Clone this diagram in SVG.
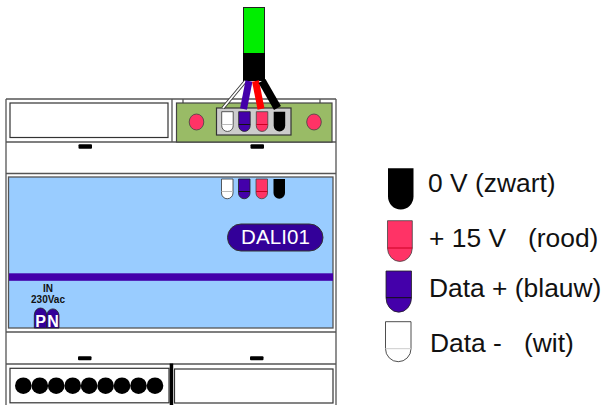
<svg xmlns="http://www.w3.org/2000/svg" width="603" height="405" viewBox="0 0 603 405">
<style>
.box{fill:#fff;stroke:#333;stroke-width:1.2}
.sep{fill:none;stroke:#555;stroke-width:1.3}
.slot{fill:#000}
.dot{fill:#000}
.scr{fill:#ff3366;stroke:#444;stroke-width:.8}
.leg{font:26.400px "Liberation Sans",Arial,sans-serif;fill:#111}
.tiny{font:bold 10px "Liberation Sans",Arial,sans-serif;fill:#111;text-anchor:middle}
.pn{font:bold 16px "Liberation Sans",Arial,sans-serif;fill:#fff;text-anchor:middle}
</style>
<defs>
<path id="pin" d="M0 0H11.500V14A5.750 5.750 0 0 1 0 14Z"/>
</defs>
<g id="housing">
<path class="sep" d="M6 99H336M6 99V405M336 99V405M6 142H336M6 173.500H336M6 332H336M6 364H336M172 99V142M183 99V103M320 99V103"/>
<rect class="box" x="10" y="103" width="158" height="34.500"/>
<rect class="slot" x="78.500" y="144.300" width="13.500" height="4.500" rx="1"/>
<rect class="slot" x="250.500" y="144.300" width="13.500" height="4.500" rx="1"/>
<rect class="slot" x="78" y="356.300" width="13.500" height="4" rx="1"/>
<rect class="slot" x="250" y="356.300" width="13.500" height="4" rx="1"/>
</g>
<g id="terminal">
<rect x="176.500" y="103" width="155.500" height="39" fill="#99bb66" stroke="#444" stroke-width="1.2"/>
<rect x="216.500" y="108" width="74.500" height="27" fill="#ccc" stroke="#333" stroke-width="1.2"/>
<ellipse class="scr" cx="196.500" cy="122" rx="7.300" ry="8"/>
<ellipse class="scr" cx="314" cy="122" rx="7.300" ry="8"/>
<use href="#pin" x="221.700" y="111.700" fill="#fff" stroke="#333" stroke-width=".8"/>
<path d="M221.700 124.500H233.200" stroke="#bbb" stroke-width="1"/>
<use href="#pin" x="238.700" y="111.700" fill="#4400aa" stroke="#222" stroke-width=".8"/>
<path d="M238.700 124.500H250.200" stroke="#111" stroke-width="1"/>
<use href="#pin" x="256.300" y="111.700" fill="#ff3366" stroke="#444" stroke-width=".8"/>
<path d="M256.300 124.500H267.800" stroke="#cc0022" stroke-width="1"/>
<use href="#pin" x="273.700" y="111.700" fill="#000"/>
</g>
<g id="cable">
<rect x="243.500" y="7.500" width="21" height="46" fill="#00ee00" stroke="#222" stroke-width="1"/>
<rect x="243" y="53" width="22" height="28" fill="#000"/>
<path d="M245.500 81L223 108" stroke="#333" stroke-width="3.500"/>
<path d="M245.500 81L223 108" stroke="#fff" stroke-width="1.800"/>
<path d="M249 81L243.500 109" stroke="#4400aa" stroke-width="7"/>
<path d="M255.500 81L261 109" stroke="#f00" stroke-width="7"/>
<path d="M262 81L277.500 108" stroke="#000" stroke-width="8"/>
</g>
<g id="panel">
<rect x="8.500" y="177" width="324.500" height="151" fill="#99ccff" stroke="#555" stroke-width="1.300"/>
<rect x="9" y="273.300" width="324" height="7.500" fill="#4400aa"/>
<use href="#pin" x="221.500" y="179" fill="#fff" stroke="#333" stroke-width=".8"/>
<path d="M221.500 191.500H233" stroke="#bbb" stroke-width="1"/>
<use href="#pin" x="238.500" y="179" fill="#4400aa" stroke="#222" stroke-width=".8"/>
<path d="M238.500 191.500H250" stroke="#111" stroke-width="1"/>
<use href="#pin" x="256" y="179" fill="#ff3366" stroke="#444" stroke-width=".8"/>
<path d="M256 191.500H267.500" stroke="#cc0022" stroke-width="1"/>
<use href="#pin" x="273.500" y="179" fill="#000"/>
</g>
<g id="dali">
<rect x="227.500" y="224" width="95.500" height="27" rx="13.500" fill="#330099" stroke="#333" stroke-width="1"/>
<text x="241" y="243.500" font-family="Liberation Sans, Arial, sans-serif" font-size="20.500" fill="#fff" textLength="69">DALI01</text>
</g>
<g id="input">
<text class="tiny" x="48" y="291.500">IN</text>
<text class="tiny" x="48" y="303.300">230Vac</text>
<path d="M34.300 328V315A6.200 7 0 0 1 46.700 315V328Z" fill="#330099" stroke="#222" stroke-width=".8"/>
<path d="M46.700 328V315A6.200 7 0 0 1 59 315V328Z" fill="#330099" stroke="#222" stroke-width=".8"/>
<text class="pn" x="40.500" y="327">P</text>
<text class="pn" x="53" y="327">N</text>
</g>
<g id="connector-left">
<rect class="box" x="10" y="368.300" width="159" height="34.500"/>
<circle class="dot" cx="23.300" cy="385.700" r="8.300"/>
<circle class="dot" cx="39.800" cy="385.700" r="8.300"/>
<circle class="dot" cx="56.200" cy="385.700" r="8.300"/>
<circle class="dot" cx="72.700" cy="385.700" r="8.300"/>
<circle class="dot" cx="89.100" cy="385.700" r="8.300"/>
<circle class="dot" cx="105.600" cy="385.700" r="8.300"/>
<circle class="dot" cx="122" cy="385.700" r="8.300"/>
<circle class="dot" cx="138.500" cy="385.700" r="8.300"/>
<circle class="dot" cx="155" cy="385.700" r="8.300"/>
<rect x="169.700" y="363.500" width="3.500" height="41.500" fill="#000"/>
</g>
<g id="connector-right">
<rect class="box" x="174.500" y="369" width="158.500" height="34"/>
</g>
<g id="legend-black">
<path d="M388 168.300H413.500V196.500A12.750 13 0 0 1 388 196.500Z" fill="#000"/>
<text class="leg" x="428" y="192">0 V (zwart)</text>
</g>
<g id="legend-red">
<path d="M387.500 220.700H412.300V248A12.400 13.500 0 0 1 387.500 248Z" fill="#ff3366" stroke="#444" stroke-width=".8"/>
<path d="M387.500 248H412.300" stroke="#cc0022" stroke-width="1"/>
<text class="leg" x="429" y="247">+ 15 V</text>
<text class="leg" x="528" y="247">(rood)</text>
</g>
<g id="legend-blue">
<path d="M386 271H411.500V297.700A12.750 14.500 0 0 1 386 297.700Z" fill="#4400aa" stroke="#222" stroke-width=".8"/>
<path d="M386 297.700H411.500" stroke="#111" stroke-width="1"/>
<text class="leg" x="429" y="297">Data + (blauw)</text>
</g>
<g id="legend-white">
<path d="M385.500 321.700H411V348.700A12.750 13 0 0 1 385.500 348.700Z" fill="#fff" stroke="#222" stroke-width=".8"/>
<path d="M385.500 348.700H411" stroke="#ccc" stroke-width="1"/>
<text class="leg" x="430" y="352">Data -</text>
<text class="leg" x="524" y="352">(wit)</text>
</g>
</svg>
